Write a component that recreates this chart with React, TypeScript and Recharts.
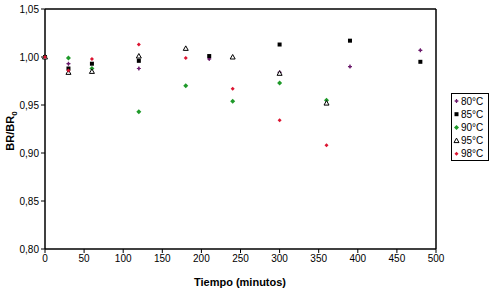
import React from 'react';
import {
  ScatterChart, Scatter, XAxis, YAxis, ReferenceLine
} from 'recharts';

// measured times (min) and relative BR/BR0 for each temperature
const times80 = [0, 30, 120, 210, 300, 390, 480];
const values80 = [1.0, 0.993, 0.988, 0.998, 0.984, 0.99, 1.007];

const times85 = [0, 30, 60, 120, 210, 300, 390, 480];
const values85 = [1.0, 0.988, 0.993, 0.996, 1.001, 1.013, 1.017, 0.995];

const times90 = [0, 30, 60, 120, 180, 240, 300, 360];
const values90 = [1.0, 0.999, 0.988, 0.943, 0.97, 0.954, 0.973, 0.955];

const times95 = [0, 30, 60, 120, 180, 240, 300, 360];
const values95 = [1.0, 0.984, 0.985, 1.001, 1.009, 1.0, 0.983, 0.952];

const times98 = [0, 30, 60, 120, 180, 240, 300, 360];
const values98 = [1.0, 0.986, 0.998, 1.013, 0.999, 0.967, 0.934, 0.908];

const xTicks = [0, 50, 100, 150, 200, 250, 300, 350, 400, 450, 500];
const yTicks = [0.8, 0.85, 0.9, 0.95, 1.0, 1.05];

const toPoints = (t: number[], v: number[]) => t.map((x, i) => ({ x, y: v[i] }));

const FONT = 'Arial, "Liberation Sans", sans-serif';

const PURPLE = '#6b1a6b';
const GREEN = '#1f9a2a';
const RED = '#dc1430';

const Plus = (p: any) => (
  <g>
    <path d={`M${p.cx - 2},${p.cy}h4M${p.cx},${p.cy - 2}v4`} stroke={PURPLE} strokeWidth={1.2} />
    <circle cx={p.cx} cy={p.cy} r={1.2} fill={PURPLE} />
  </g>
);
const Square = (p: any) => (
  <rect x={p.cx - 2} y={p.cy - 2} width={4} height={4} fill="#000" />
);
const GreenDiamond = (p: any) => (
  <path d={`M${p.cx},${p.cy - 2.5}L${p.cx + 2.5},${p.cy}L${p.cx},${p.cy + 2.5}L${p.cx - 2.5},${p.cy}Z`} fill={GREEN} />
);
const Triangle = (p: any) => (
  <path d={`M${p.cx},${p.cy - 2.5}L${p.cx + 2.5},${p.cy + 2}L${p.cx - 2.5},${p.cy + 2}Z`} fill="#fff" stroke="#000" strokeWidth={1} />
);
const RedDiamond = (p: any) => (
  <path d={`M${p.cx},${p.cy - 2}L${p.cx + 2},${p.cy}L${p.cx},${p.cy + 2}L${p.cx - 2},${p.cy}Z`} fill={RED} />
);

const legendItems = [
  { name: '80°C', shape: Plus },
  { name: '85°C', shape: Square },
  { name: '90°C', shape: GreenDiamond },
  { name: '95°C', shape: Triangle },
  { name: '98°C', shape: RedDiamond },
];

const ChartLegend = () => (
  <svg width={38} height={68} style={{ position: 'absolute', left: 451, top: 93 }}>
    <rect x={0.5} y={0.5} width={37} height={67} fill="#fff" stroke="#000" />
    {legendItems.map((it, i) => {
      const Shape = it.shape;
      const cy = 8 + i * 13.2;
      return (
        <g key={it.name}>
          <Shape cx={5.5} cy={cy} />
          <text x={10} y={cy + 3.5} fontSize={10} fontFamily={FONT} fill="#000">{it.name}</text>
        </g>
      );
    })}
  </svg>
);

const YLabel = () => (
  <text
    x={14}
    y={131}
    transform="rotate(-90 14 131)"
    textAnchor="middle"
    fontSize={11}
    fontWeight="bold"
    fontFamily={FONT}
    fill="#000"
  >
    BR/BR<tspan fontSize={8} dy={3}>0</tspan>
  </text>
);

const XLabel = () => (
  <text x={240} y={286} textAnchor="middle" fontSize={11} fontWeight="bold" fontFamily={FONT} fill="#000">
    Tiempo (minutos)
  </text>
);

const App: React.FC = () => {
  return (
    <div style={{ position: 'absolute', left: 0, top: 0, width: 496, height: 294, background: '#fff' }}>
      <ScatterChart width={496} height={294} margin={{ top: 9, right: 60, left: 0, bottom: 0 }}>
        <XAxis
          type="number"
          dataKey="x"
          domain={[0, 500]}
          ticks={xTicks}
          interval={0}
          height={45}
          tickSize={4}
          axisLine={{ stroke: '#000', strokeWidth: 1.5 }}
          tickLine={{ stroke: '#000' }}
          tick={{ fill: '#000', fontSize: 10, fontFamily: FONT }}
          label={{ content: XLabel }}
        />
        <YAxis
          type="number"
          dataKey="y"
          domain={[0.8, 1.05]}
          ticks={yTicks}
          interval={0}
          width={45}
          tickSize={4}
          axisLine={{ stroke: '#000', strokeWidth: 1.5 }}
          tickLine={{ stroke: '#000' }}
          tick={{ fill: '#000', fontSize: 10, fontFamily: FONT }}
          tickFormatter={(v: number) => v.toFixed(2).replace('.', ',')}
          label={{ content: YLabel }}
        />
        <ReferenceLine y={1.05} stroke="#000" strokeWidth={1.5} />
        <ReferenceLine x={500} stroke="#000" strokeWidth={1.5} />
        <Scatter name="80°C" data={toPoints(times80, values80)} shape={Plus} isAnimationActive={false} />
        <Scatter name="85°C" data={toPoints(times85, values85)} shape={Square} isAnimationActive={false} />
        <Scatter name="90°C" data={toPoints(times90, values90)} shape={GreenDiamond} isAnimationActive={false} />
        <Scatter name="95°C" data={toPoints(times95, values95)} shape={Triangle} isAnimationActive={false} />
        <Scatter name="98°C" data={toPoints(times98, values98)} shape={RedDiamond} isAnimationActive={false} />
      </ScatterChart>
      <ChartLegend />
    </div>
  );
};

export default App;
